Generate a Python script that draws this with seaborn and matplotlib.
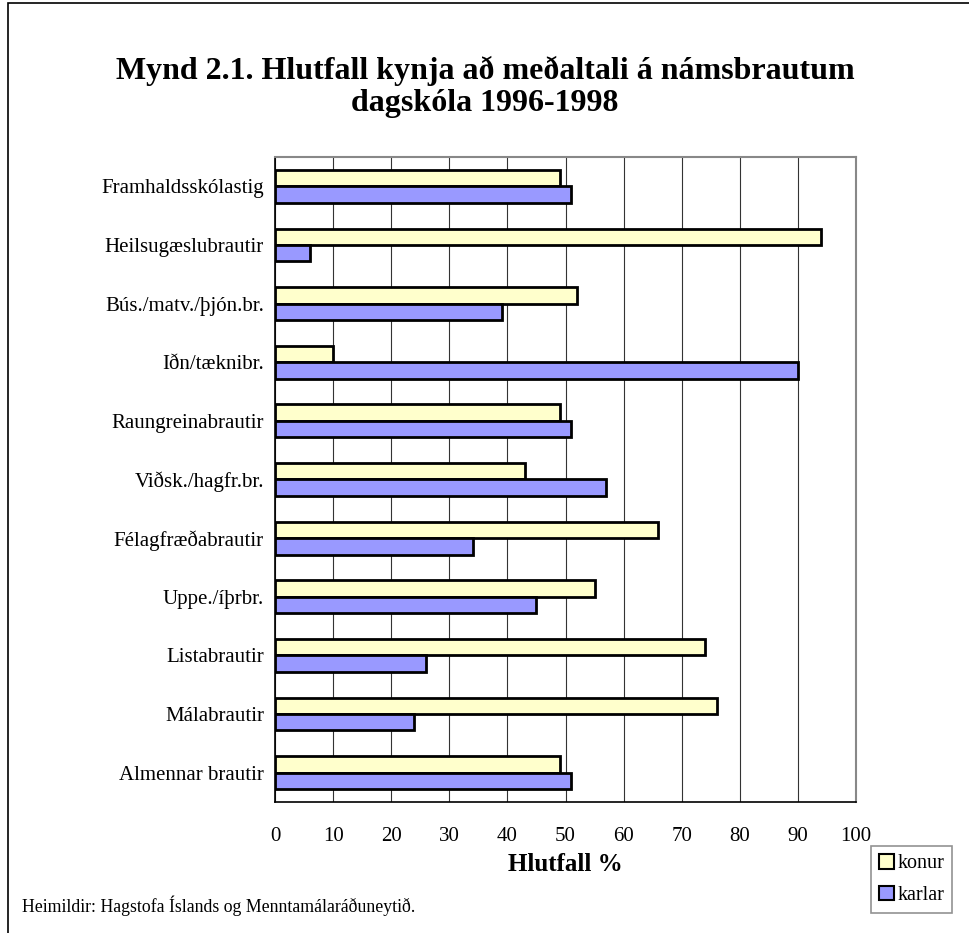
import pandas as pd
import matplotlib.pyplot as plt
import seaborn as sns
import numpy as np
from matplotlib.patches import Rectangle

# gögn lesin af myndinni
brautir = ['Framhaldsskólastig', 'Heilsugæslubrautir', 'Bús./matv./þjón.br.',
           'Iðn/tæknibr.', 'Raungreinabrautir', 'Viðsk./hagfr.br.',
           'Félagfræðabrautir', 'Uppe./íþrbr.', 'Listabrautir',
           'Málabrautir', 'Almennar brautir']
konur = [49, 94, 52, 10, 49, 43, 66, 55, 74, 76, 49]
karlar = [51, 6, 39, 90, 51, 57, 34, 45, 26, 24, 51]
x_ticks = list(range(0, 101, 10))

df = pd.DataFrame({'braut': brautir * 2,
                   'kyn': ['konur'] * len(brautir) + ['karlar'] * len(brautir),
                   'hlutfall': konur + karlar})

sns.set_theme(style='white')
plt.rcParams['font.family'] = ['Liberation Serif', 'DejaVu Serif']
plt.rcParams['text.color'] = 'black'
plt.rcParams['xtick.color'] = 'black'
plt.rcParams['ytick.color'] = 'black'
plt.rcParams['axes.labelcolor'] = 'black'

fig = plt.figure(figsize=(9.69, 9.33), dpi=100)
ax = fig.add_axes([275 / 969, 1 - 802 / 933, 581 / 969, 645 / 933])

sns.barplot(data=df, x='hlutfall', y='braut', hue='kyn', orient='h',
            palette={'konur': '#FFFFCC', 'karlar': '#9999FF'}, saturation=1,
            width=0.56, edgecolor='black', linewidth=2, ax=ax,
            legend=False, errorbar=None, zorder=3)

ax.set_xlim(0, 100)
ax.set_ylim(len(brautir) - 0.5, -0.5)
ax.set_xticks(x_ticks)
ax.set_xticklabels([str(t) for t in x_ticks], fontsize=15)
ax.tick_params(axis='x', direction='out', length=7, width=1, pad=11)
ax.tick_params(axis='y', which='major', length=0, pad=8, labelsize=15)
ax.set_yticks(np.arange(-0.5, len(brautir)), minor=True)
ax.tick_params(axis='y', which='minor', direction='out', length=6, width=1)
ax.set_ylabel('')
ax.set_xlabel('Hlutfall %', fontsize=18, fontweight='bold', labelpad=5)

ax.grid(axis='x', color='#333333', linewidth=0.8, zorder=0)
ax.spines['left'].set_color('black')
ax.spines['bottom'].set_color('black')
ax.spines['left'].set_linewidth(1.2)
ax.spines['bottom'].set_linewidth(1.2)
for s in ['top', 'right']:
    ax.spines[s].set_color('#888888')
    ax.spines[s].set_linewidth(1.5)

# skýringar
handles = [Rectangle((0, 0), 1, 1, facecolor='#FFFFCC', edgecolor='black', linewidth=1.5),
           Rectangle((0, 0), 1, 1, facecolor='#9999FF', edgecolor='black', linewidth=1.5)]
leg = fig.legend(handles, ['konur', 'karlar'], loc='upper left',
                 bbox_to_anchor=(871 / 969, 1 - 846 / 933), fontsize=14.5,
                 frameon=True, fancybox=False, handlelength=0.75, handleheight=0.75,
                 handletextpad=0.15, borderpad=0.4, labelspacing=0.6,
                 borderaxespad=0)
leg.get_frame().set_edgecolor('#777777')
leg.get_frame().set_linewidth(1.2)

fig.text(485 / 969, 1 - 71 / 933, 'Mynd 2.1. Hlutfall kynja að meðaltali á námsbrautum',
         ha='center', va='center', fontsize=23, fontweight='bold')
fig.text(485 / 969, 1 - 104 / 933, 'dagskóla 1996-1998',
         ha='center', va='center', fontsize=23, fontweight='bold')
fig.text(22 / 969, 1 - 906 / 933, 'Heimildir: Hagstofa Íslands og Menntamálaráðuneytið.',
         ha='left', va='center', fontsize=12.8)

# rammi um myndina
fig.patches.append(Rectangle((8 / 969, -0.1), 1.2, (1 - 3 / 933) + 0.1,
                             transform=fig.transFigure, fill=False,
                             edgecolor='black', linewidth=1.2))

fig.savefig('out.png', dpi=100)
